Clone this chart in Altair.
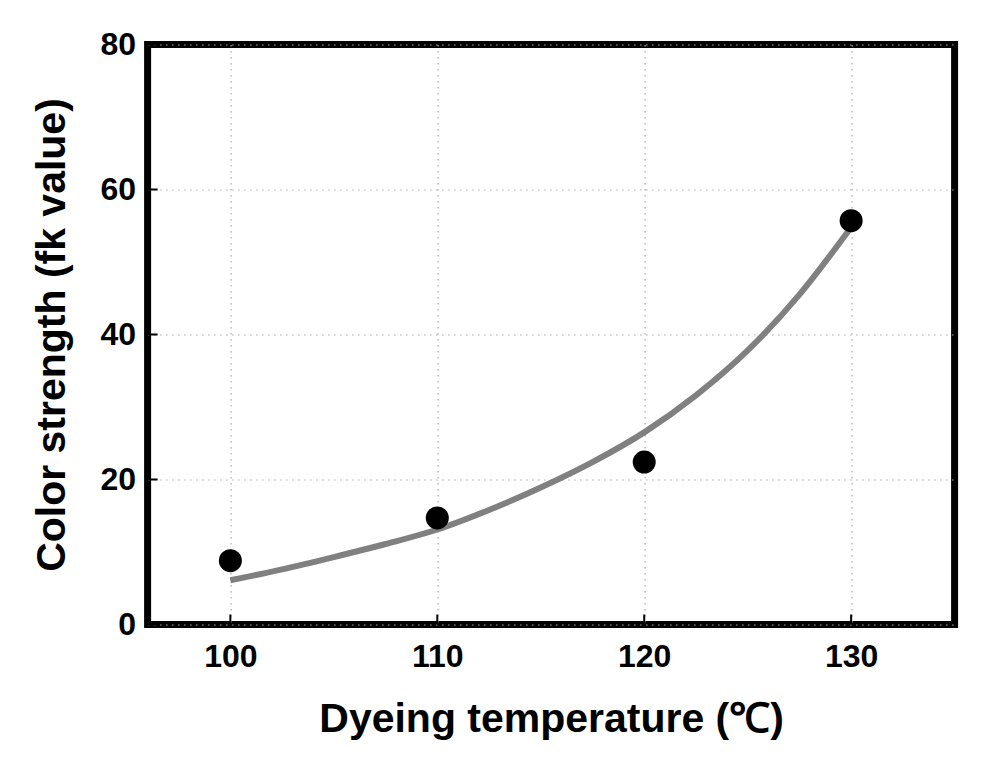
import altair as alt
import pandas as pd

# measured points
temps = [100, 110, 120, 130]
strength = [8.8, 14.7, 22.4, 55.7]

# fitted curve
curve_x = [100, 102.5, 105, 107.5, 110, 112.5, 115, 117.5, 120, 122.5, 125, 127.5, 130]
curve_y = [6.1, 7.6, 9.3, 11.1, 13.1, 15.8, 18.9, 22.4, 26.5, 31.6, 37.8, 45.5, 54.8]

x_ticks = [100, 110, 120, 130]
y_ticks = [0, 20, 40, 60, 80]

pts = pd.DataFrame({"t": temps, "v": strength})
crv = pd.DataFrame({"t": curve_x, "v": curve_y})
yt = pd.DataFrame({"v": y_ticks})
xt = pd.DataFrame({"t": x_ticks})

FONT = "Liberation Sans"

xscale = alt.Scale(domain=[96, 135], nice=False, zero=False)
yscale = alt.Scale(domain=[0, 80], nice=False)

xaxis = alt.Axis(values=x_ticks, title="Dyeing temperature (\u2103)", grid=True,
                 gridColor="#aaaaaa", gridDash=[1.5, 4.5], gridWidth=1.2,
                 ticks=False, domain=False, labelFont=FONT, labelFontSize=32,
                 labelFontWeight="bold", labelColor="black", labelPadding=17,
                 titleFont=FONT, titleFontSize=41, titleFontWeight="bold",
                 titleColor="black", titlePadding=27)
yaxis = alt.Axis(values=y_ticks, title="Color strength (fk value)", grid=True,
                 gridColor="#aaaaaa", gridDash=[1.5, 4.5], gridWidth=1.2,
                 ticks=False, domain=False, labelFont=FONT, labelFontSize=32,
                 labelFontWeight="bold", labelColor="black", labelPadding=12,
                 titleFont=FONT, titleFontSize=41, titleFontWeight="bold",
                 titleColor="black", titlePadding=27)

line = alt.Chart(crv).mark_line(color="#808080", strokeWidth=6, interpolate="monotone").encode(
    x=alt.X("t:Q", scale=xscale, axis=xaxis),
    y=alt.Y("v:Q", scale=yscale, axis=yaxis),
)

dots = alt.Chart(pts).mark_circle(color="black", opacity=1, size=530).encode(
    x=alt.X("t:Q", scale=xscale),
    y=alt.Y("v:Q", scale=yscale),
)

ytk = alt.Chart(yt).mark_rule(color="black", strokeWidth=2).encode(
    x=alt.value(0), x2=alt.value(10), y=alt.Y("v:Q", scale=yscale)
)
xtk = alt.Chart(xt).mark_rule(color="black", strokeWidth=2).encode(
    x=alt.X("t:Q", scale=xscale), y=alt.value(580), y2=alt.value(570)
)

chart = alt.layer(line, ytk, xtk, dots).properties(
    width=807, height=580,
    autosize=alt.AutoSizeParams(type="none"),
    padding={"left": 139.6, "top": 36.5, "right": 20, "bottom": 120},
    background="white",
).configure_view(stroke="black", strokeWidth=7)

chart.save("out.html", embed_options={"renderer": "svg", "actions": False})
